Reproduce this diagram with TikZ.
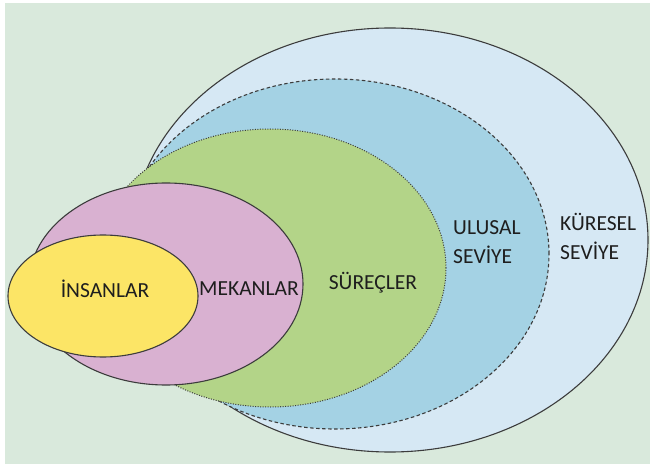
\documentclass[tikz,border=0pt]{standalone}
\usepackage{fontspec}
\setmainfont{Carlito}
\definecolor{bggreen}{HTML}{D9E9DC}
\definecolor{globalblue}{HTML}{D6E8F4}
\definecolor{nationalblue}{HTML}{A4D2E4}
\definecolor{procgreen}{HTML}{B3D488}
\definecolor{placepink}{HTML}{D9B1D1}
\definecolor{peopleyellow}{HTML}{FCE566}
\definecolor{edgegray}{HTML}{3C3C3C}
\definecolor{labelink}{HTML}{1E1E1E}
\begin{document}
\begin{tikzpicture}[x=1pt,y=1pt,
  rim/.style={draw=edgegray, line width=1.1pt},
  lbl/.style={text=labelink, inner sep=0pt, font=\fontsize{21.5}{29}\selectfont}]
\useasboundingbox (0,0) rectangle (650,464);
\fill[white] (0,0) rectangle (650,464);
\fill[bggreen] (5,0) rectangle (650,461);
% outer: global level
\path[rim, fill=globalblue] (390,224) ellipse [x radius=258, y radius=212];
% national level
\path[rim, fill=nationalblue, dash pattern=on 3.5pt off 2.5pt] (335,210) ellipse [x radius=214, y radius=175];
% processes
\path[rim, fill=procgreen, line width=1pt, dash pattern=on 1pt off 1.5pt] (270,196) ellipse [x radius=176, y radius=139];
% places
\path[rim, fill=placepink] (166,180) ellipse [x radius=137, y radius=101];
% people
\path[rim, fill=peopleyellow] (103,168) ellipse [x radius=95, y radius=61];
% labels
\node[lbl, anchor=base] (insan) at (105,167) {İNSANLAR};
\node[lbl, anchor=base] (mekan) at (249,169) {MEKANLAR};
\node[lbl, anchor=base] (surec) at (373,175) {SÜREÇLER};
\node[lbl, anchor=base west, align=left] (ulusal) at (453,201) {ULUSAL\\SEVİYE};
\node[lbl, anchor=base west, align=left] (kuresel) at (560,205) {KÜRESEL\\SEVİYE};
\end{tikzpicture}
\end{document}
